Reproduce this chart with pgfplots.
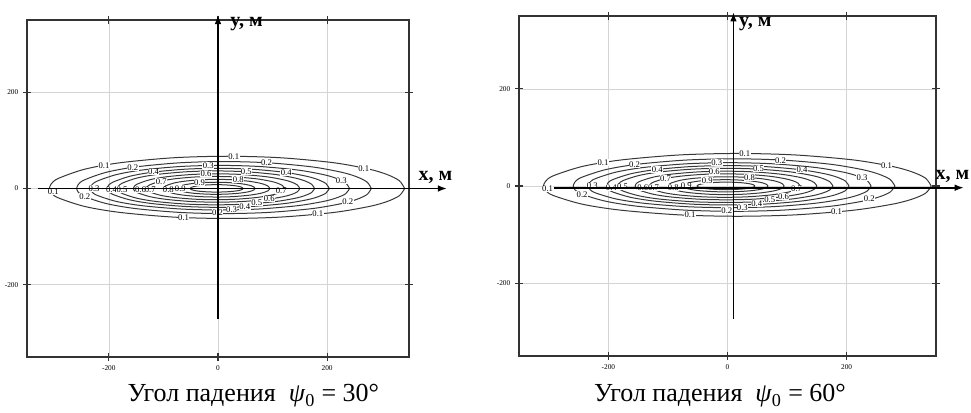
\documentclass[border=0pt]{standalone}
\usepackage{fontspec}
\setmainfont{Liberation Serif}
\usepackage{pgfplots}
\usepackage{pgfplotstable}
\pgfplotsset{compat=1.18}
\usetikzlibrary{arrows.meta}

% contour lines: x, upper y, lower y
\pgfplotstableread{
x yu yl
-309 0 0
-305.7 9.4 -8.8
-292.7 20.9 -19.4
-243.9 40.2 -37.4
-178.8 53.6 -49.8
-81.2 63.9 -59.4
16.5 67 -62.3
114.2 63.9 -59.4
211.8 53.6 -49.8
276.9 40.2 -37.4
309.5 29.2 -27.2
332.2 16.3 -15.1
342 0 0
}\cA
\pgfplotstableread{
x yu yl
-259 0 0
-256.3 7.9 -7.3
-245.5 17.5 -16.3
-205 33.6 -31.2
-151 44.8 -41.7
-70 53.4 -49.7
11 56 -52.1
92 53.4 -49.7
173 44.8 -41.7
227 33.6 -31.2
254 24.4 -22.7
272.9 13.6 -12.6
281 0 0
}\cB
\pgfplotstableread{
x yu yl
-234 0 0
-231.6 6.8 -6.3
-222.1 15 -13.9
-186.5 28.8 -26.8
-139 38.4 -35.7
-67.8 45.8 -42.6
3.5 48 -44.6
74.8 45.8 -42.6
146 38.4 -35.7
193.5 28.8 -26.8
217.3 20.9 -19.4
233.9 11.7 -10.9
241 0 0
}\cC
\pgfplotstableread{
x yu yl
-203 0 0
-201 5.9 -5.5
-192.8 13.1 -12.2
-162.3 25.2 -23.4
-121.6 33.6 -31.2
-60.6 40.1 -37.3
0.5 42 -39.1
61.6 40.1 -37.3
122.6 33.6 -31.2
163.3 25.2 -23.4
183.7 18.3 -17
197.9 10.2 -9.5
204 0 0
}\cD
\pgfplotstableread{
x yu yl
-184 0 0
-182.2 5.1 -4.8
-175 11.4 -10.6
-147.9 21.9 -20.4
-111.8 29.2 -27.2
-57.7 34.8 -32.4
-3.5 36.5 -33.9
50.7 34.8 -32.4
104.8 29.2 -27.2
140.9 21.9 -20.4
159 15.9 -14.8
171.6 8.9 -8.3
177 0 0
}\cE
\pgfplotstableread{
x yu yl
-155 0 0
-153.5 4.3 -4
-147.4 9.5 -8.8
-124.5 18.3 -17
-94 24.4 -22.7
-48.3 29.1 -27.1
-2.5 30.5 -28.4
43.3 29.1 -27.1
89 24.4 -22.7
119.5 18.3 -17
134.8 13.3 -12.4
145.4 7.4 -6.9
150 0 0
}\cF
\pgfplotstableread{
x yu yl
-131 0 0
-129.7 3.5 -3.3
-124.7 7.8 -7.3
-105.7 15 -14
-80.4 20 -18.6
-42.5 23.9 -22.2
-4.5 25 -23.3
33.5 23.9 -22.2
71.4 20 -18.6
96.7 15 -14
109.4 10.9 -10.1
118.2 6.1 -5.7
122 0 0
}\cG
\pgfplotstableread{
x yu yl
-100 0 0
-99 2.7 -2.5
-95.1 5.9 -5.5
-80.5 11.4 -10.6
-61 15.2 -14.1
-31.8 18.1 -16.9
-2.5 19 -17.7
26.8 18.1 -16.9
56 15.2 -14.1
75.5 11.4 -10.6
85.3 8.3 -7.7
92.1 4.6 -4.3
95 0 0
}\cH
\pgfplotstableread{
x yu yl
-75 0 0
-74.3 1.8 -1.7
-71.4 4.1 -3.8
-60.7 7.8 -7.3
-46.4 10.4 -9.7
-25 12.4 -11.5
-3.5 13 -12.1
18 12.4 -11.5
39.4 10.4 -9.7
53.7 7.8 -7.3
60.9 5.7 -5.3
65.9 3.2 -2.9
68 0 0
}\cI
\pgfplotstableread{
x yu yl
-51 0 0
-50.5 1.1 -1
-48.6 2.5 -2.3
-41.3 4.8 -4.5
-31.6 6.4 -6
-17.1 7.6 -7.1
-2.5 8 -7.4
12.1 7.6 -7.1
26.6 6.4 -6
36.3 4.8 -4.5
41.2 3.5 -3.3
44.5 1.9 -1.8
46 0 0
}\cJ

\pgfplotsset{
  contourmap/.style={
    scale only axis, anchor=south west, clip=false,
    xmin=-350, xmax=350, ymin=-350, ymax=350,
    xtick={-200,0,200}, ytick={-200,0,200},
    grid=major, grid style={draw=black!17, line width=0.5pt},
    tick align=center, major tick length=6pt,
    tick style={draw=black!80, line width=0.8pt},
    axis line style={draw=black!80, line width=1.1pt},
    tick label style={font=\fontsize{5.5}{6}\selectfont},
    /pgf/number format/assume math mode=true,
  },
  cline/.style={smooth, no marks, draw=black!78, line width=0.75pt},
}
\tikzset{
  lbl/.style={font=\fontsize{6.5}{7}\selectfont, fill=white, inner sep=0.3pt},
  axarrow/.style={line width=1.3pt, black, -{Latex[length=7pt,width=5pt]}},
  axlab/.style={font=\fontsize{15}{16}\selectfont\bfseries, anchor=west, inner sep=0pt},
}

\newcommand\contours{%
  \addplot[cline] table[x=x,y=yu]{\cA};
  \addplot[cline] table[x=x,y=yl]{\cA};
  \addplot[cline] table[x=x,y=yu]{\cB};
  \addplot[cline] table[x=x,y=yl]{\cB};
  \addplot[cline] table[x=x,y=yu]{\cC};
  \addplot[cline] table[x=x,y=yl]{\cC};
  \addplot[cline] table[x=x,y=yu]{\cD};
  \addplot[cline] table[x=x,y=yl]{\cD};
  \addplot[cline] table[x=x,y=yu]{\cE};
  \addplot[cline] table[x=x,y=yl]{\cE};
  \addplot[cline] table[x=x,y=yu]{\cF};
  \addplot[cline] table[x=x,y=yl]{\cF};
  \addplot[cline] table[x=x,y=yu]{\cG};
  \addplot[cline] table[x=x,y=yl]{\cG};
  \addplot[cline] table[x=x,y=yu]{\cH};
  \addplot[cline] table[x=x,y=yl]{\cH};
  \addplot[cline] table[x=x,y=yu]{\cI};
  \addplot[cline] table[x=x,y=yl]{\cI};
  \addplot[cline] table[x=x,y=yu]{\cJ};
  \addplot[cline] table[x=x,y=yl]{\cJ};
}
\newcommand\clabels{%
  \node[lbl] at (axis cs:29,66) {0.1};
  \node[lbl] at (axis cs:-209,48) {0.1};
  \node[lbl] at (axis cs:-156,44) {0.2};
  \node[lbl] at (axis cs:-18,48) {0.3};
  \node[lbl] at (axis cs:89,53) {0.2};
  \node[lbl] at (axis cs:267,42) {0.1};
  \node[lbl] at (axis cs:-118,34) {0.4};
  \node[lbl] at (axis cs:-22,30) {0.6};
  \node[lbl] at (axis cs:52,35) {0.5};
  \node[lbl] at (axis cs:125,33) {0.4};
  \node[lbl] at (axis cs:-104,15) {0.7};
  \node[lbl] at (axis cs:-34,12) {0.9};
  \node[lbl] at (axis cs:37,18) {0.8};
  \node[lbl] at (axis cs:226,17) {0.3};
  \node[lbl] at (axis cs:-302,-6) {0.1};
  \node[lbl] at (axis cs:-227,0) {0.3};
  \node[lbl] at (axis cs:-195,-3) {0.4};
  \node[lbl] at (axis cs:-176,-2) {0.5};
  \node[lbl] at (axis cs:-142,-3) {0.6};
  \node[lbl] at (axis cs:-124,-3) {0.7};
  \node[lbl] at (axis cs:-91,-3) {0.8};
  \node[lbl] at (axis cs:-69,0) {0.9};
  \node[lbl] at (axis cs:116,-5) {0.7};
  \node[lbl] at (axis cs:-244,-17) {0.2};
  \node[lbl] at (axis cs:-1,-50) {0.2};
  \node[lbl] at (axis cs:25,-44) {0.3};
  \node[lbl] at (axis cs:49,-37) {0.4};
  \node[lbl] at (axis cs:71,-29) {0.5};
  \node[lbl] at (axis cs:94,-22) {0.6};
  \node[lbl] at (axis cs:238,-27) {0.2};
  \node[lbl] at (axis cs:183,-52) {0.1};
  \node[lbl] at (axis cs:-63,-60) {0.1};
}

\begin{document}
\begin{tikzpicture}
\useasboundingbox (0,0) rectangle (728.25pt,309pt);

\begin{axis}[contourmap, at={(20.25pt,41.25pt)}, width=286.5pt, height=252.75pt]
  \contours
  \clabels
  \draw[axarrow] (axis cs:-329,0) -- (axis cs:420,0);
  \draw[axarrow] (axis cs:0,-271) -- (axis cs:0,361);
  \node[axlab] at (axis cs:22,342) {y, м};
  \node[axlab] at (axis cs:367,22) {x, м};
\end{axis}

\begin{axis}[contourmap, at={(389.25pt,42pt)}, width=312.75pt, height=255pt]
  \contours
  \clabels
  \draw[axarrow] (axis cs:-292,-3.5) -- (axis cs:397,-3.5);
  \draw[axarrow] (axis cs:10,-273) -- (axis cs:10,358);
  \node[axlab] at (axis cs:19,333) {y, м};
  \node[axlab] at (axis cs:349,19) {x, м};
\end{axis}

\node[font=\fontsize{19.5}{22}\selectfont] at (190pt,12pt) {Угол падения \ \textit{ψ}\textsubscript{0} = 30°};
\node[font=\fontsize{19.5}{22}\selectfont] at (540pt,12pt) {Угол падения \ \textit{ψ}\textsubscript{0} = 60°};
\end{tikzpicture}
\end{document}
